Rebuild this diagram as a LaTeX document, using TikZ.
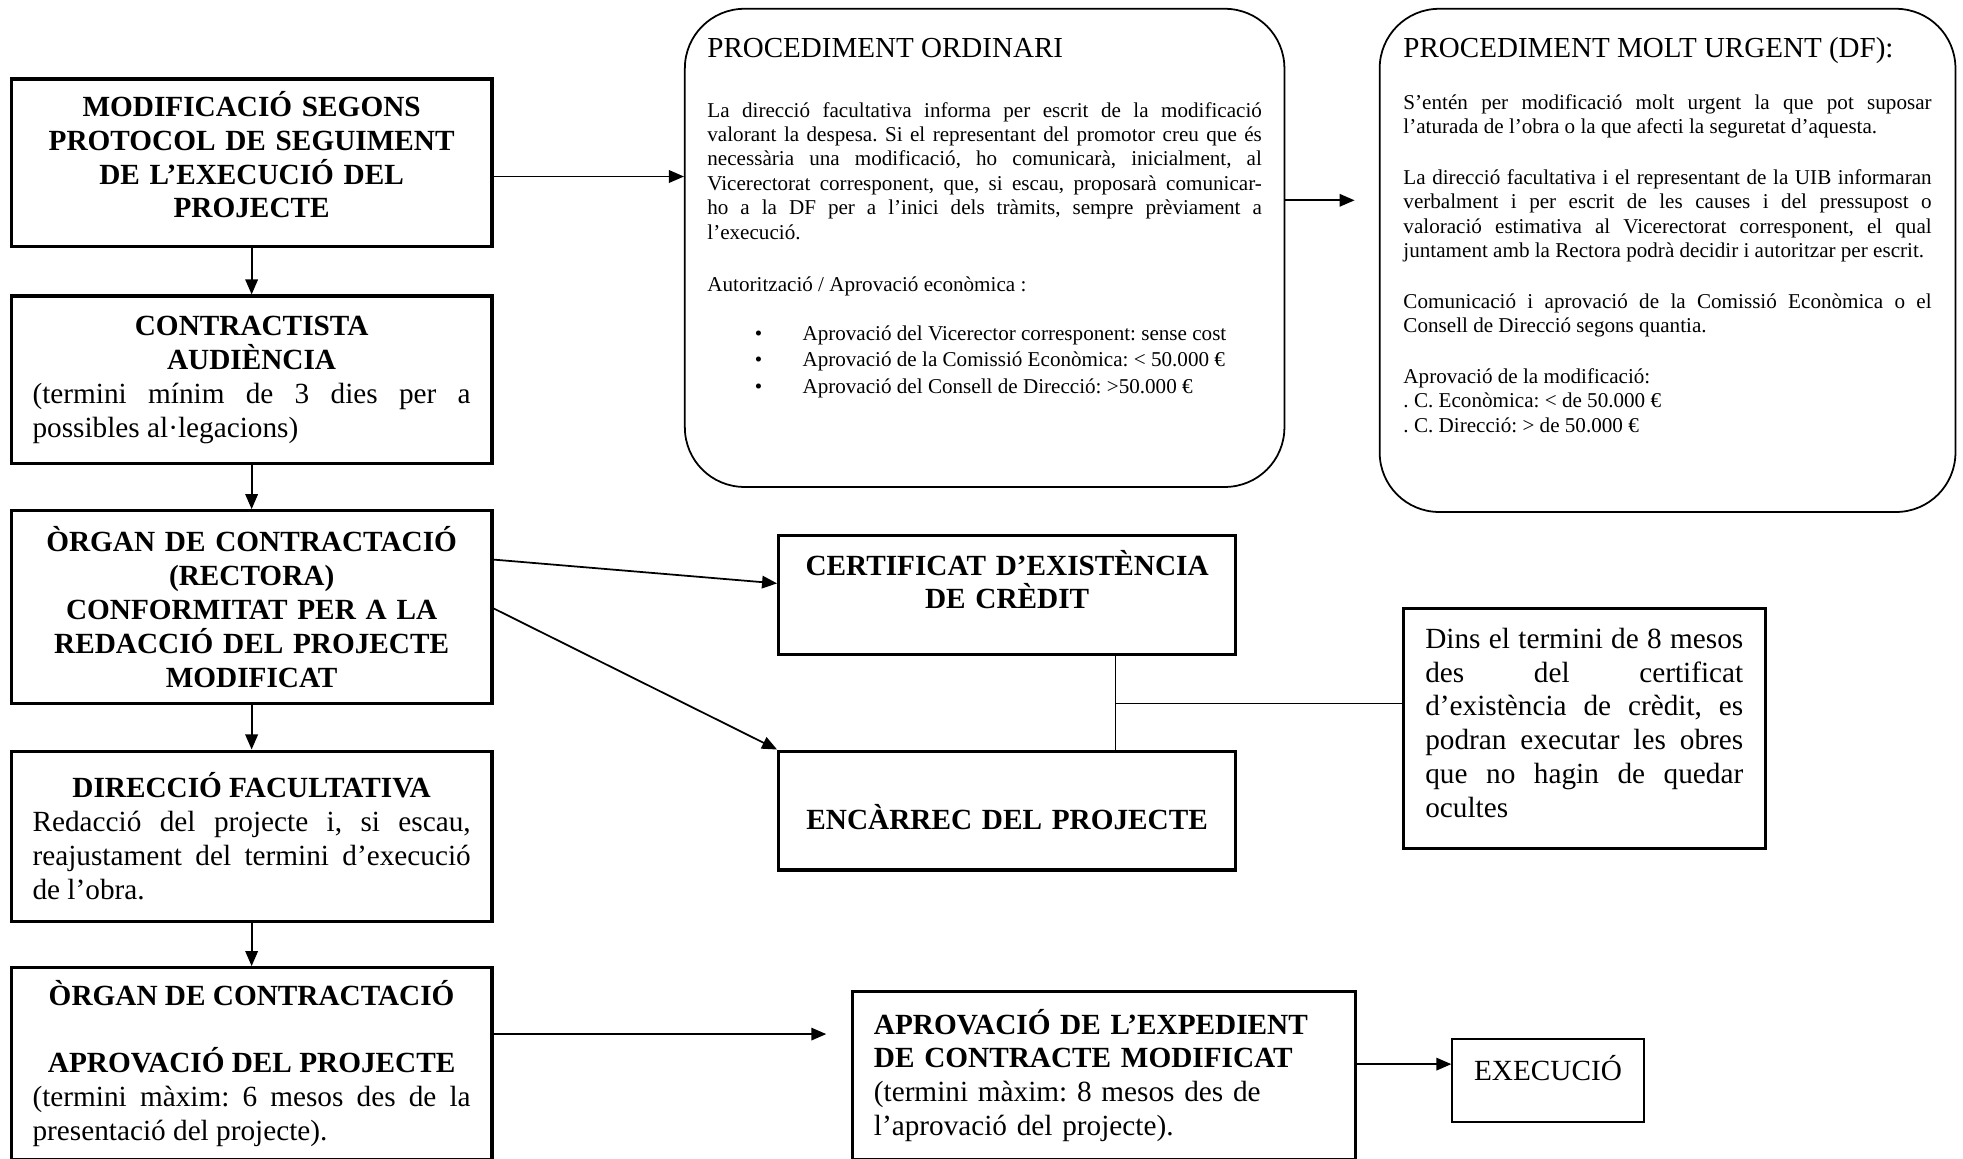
\documentclass[tikz,border=0pt]{standalone}
\usepackage{fontspec}
\setmainfont{Liberation Serif}
\usetikzlibrary{arrows.meta}
\frenchspacing

\newcommand\bigtext{\fontsize{13.3pt}{15.4pt}\selectfont}
\newcommand\smalltext{\fontsize{9.6pt}{11.1pt}\selectfont}
\newcommand\titletext{\fontsize{13.2pt}{15.4pt}\selectfont}
\newcommand\bulletline{\hspace*{0.76cm}\makebox[0.76cm][l]{\textbullet}}

\tikzset{
  box/.style={draw, line width=1.5pt, inner sep=0pt, text width=7cm, minimum width=7.68cm, align=center, font=\bigtext},
  boldbox/.style={box, font=\bigtext\bfseries},
  note/.style={draw, line width=0.8pt, rounded corners=0.95cm, inner sep=0pt, font=\smalltext},
  arr/.style={line width=0.8pt, -{Triangle[length=0.24cm,width=0.2cm]}},
  link/.style={line width=0.6pt},
}

\begin{document}
\begin{tikzpicture}[x=0.02cm, y=-0.02cm]
\useasboundingbox (0,0) rectangle (1568,925);

% left column
\node[boldbox, minimum height=2.68cm] (mod) at (201,130) {MODIFICACIÓ SEGONS\\PROTOCOL DE SEGUIMENT\\DE L’EXECUCIÓ DEL\\PROJECTE\\[-8pt]\mbox{}};
\node[box, align=justify, minimum height=2.68cm] (contr) at (201,303.5) {{\centering\bfseries CONTRACTISTA\\AUDIÈNCIA\par}(termini mínim de 3 dies per a\linebreak possibles al·legacions)};
\node[boldbox, minimum height=3.08cm] (organ1) at (201,485) {ÒRGAN DE CONTRACTACIÓ\\(RECTORA)\\CONFORMITAT PER A LA\\REDACCIÓ DEL PROJECTE\\MODIFICAT};
\node[box, align=justify, minimum height=2.72cm] (df) at (201,668) {{\centering\bfseries DIRECCIÓ FACULTATIVA\par}Redacció del projecte i, si escau,\linebreak reajustament del termini d’execució\linebreak de l’obra.};
\node[box, align=justify, minimum height=3.06cm] (organ2) at (201,849.5) {{\centering\bfseries ÒRGAN DE CONTRACTACIÓ\\[15.4pt]APROVACIÓ DEL PROJECTE\par}(termini màxim: 6 mesos des de la\linebreak presentació del projecte).};

\draw[arr] (mod.south) -- (contr.north);
\draw[arr] (contr.south) -- (organ1.north);
\draw[arr] (organ1.south) -- (df.north);
\draw[arr] (df.south) -- (organ2.north);

% procediments
\node[note, minimum width=9.58cm, minimum height=7.64cm] (ord) at (786.5,198) {\begin{minipage}[c][6.7cm][t]{8.86cm}
{\titletext PROCEDIMENT ORDINARI\par}\vspace{16pt}
La direcció facultativa informa per escrit de la modificació\linebreak valorant la despesa. Si el representant del promotor creu que és\linebreak necessària una modificació, ho comunicarà, inicialment, al\linebreak Vicerectorat corresponent, que, si escau, proposarà comunicar-\linebreak ho a la DF per a l’inici dels tràmits, sempre prèviament a\linebreak l’execució.\par\vspace{12.5pt}
Autorització / Aprovació econòmica :\par\vspace{11.5pt}
\bulletline Aprovació del Vicerector corresponent: sense cost\\[0.8pt]
\bulletline Aprovació de la Comissió Econòmica: < 50.000 €\\[0.8pt]
\bulletline Aprovació del Consell de Direcció: >50.000 €
\end{minipage}};
\node[note, minimum width=9.2cm, minimum height=8.04cm] (urg) at (1332,208) {\begin{minipage}[c][7.14cm][t]{8.44cm}
{\titletext PROCEDIMENT MOLT URGENT (DF):\par}\vspace{12.5pt}
S’entén per modificació molt urgent la que pot suposar\linebreak l’aturada de l’obra o la que afecti la seguretat d’aquesta.\par\vspace{12pt}
La direcció facultativa i el representant de la UIB informaran\linebreak verbalment i per escrit de les causes i del pressupost o\linebreak valoració estimativa al Vicerectorat corresponent, el qual\linebreak juntament amb la Rectora podrà decidir i autoritzar per escrit.\par\vspace{12pt}
Comunicació i aprovació de la Comissió Econòmica o el\linebreak Consell de Direcció segons quantia.\par\vspace{12pt}
Aprovació de la modificació:\\
. C. Econòmica: < de 50.000 €\\
. C. Direcció: > de 50.000 €
\end{minipage}};

\draw[arr] (mod.east |- 0,141) -- (ord.west |- 0,141);
\coordinate (urgtip) at (1082,160);
\draw[arr] (ord.east |- urgtip) -- (urgtip);

% credit
\node[boldbox, minimum width=7.3cm, minimum height=1.9cm] (cert) at (804.5,475.5) {CERTIFICAT D’EXISTÈNCIA\\DE CRÈDIT\\[-1pt]\mbox{}};
\node[boldbox, minimum width=7.3cm, minimum height=1.9cm] (enc) at (804.5,647.5) {\raisebox{-0.1cm}[\height][\depth]{ENCÀRREC DEL PROJECTE}};
\node[box, align=justify, text width=5.08cm, minimum width=5.78cm, minimum height=3.84cm] (dins) at (1265.5,582) {Dins el termini de 8 mesos\linebreak des del certificat\linebreak d’existència de crèdit, es\linebreak podran executar les obres\linebreak que no hagin de quedar\linebreak ocultes\\[-10pt]\mbox{}};

\draw[arr] (organ1.east |- 0,447) -- (cert.west |- 0,466);
\draw[arr] (organ1.east |- 0,486) -- (enc.north west);
\coordinate (jn) at (891,562);
\draw[link] (jn |- cert.south) -- (jn |- enc.north);
\draw[link] (jn) -- (jn -| dins.west);

% aprovacio i execucio
\node[box, align=left, text width=7.36cm, minimum width=8.04cm, minimum height=2.68cm] (aprov) at (882,859) {{\bfseries APROVACIÓ DE L’EXPEDIENT\\DE CONTRACTE MODIFICAT}\\(termini màxim: 8 mesos des de\\l’aprovació del projecte).};
\node[box, line width=0.8pt, text width=2.6cm, minimum width=3.06cm, minimum height=1.32cm] (exec) at (1236.5,863) {\raisebox{0.2cm}[\height][\depth]{EXECUCIÓ}};

\coordinate (aprtip) at (660,826);
\draw[arr] (organ2.east |- aprtip) -- (aprtip);
\draw[arr] (aprov.east |- 0,850) -- (exec.west |- 0,850);
\end{tikzpicture}
\end{document}
